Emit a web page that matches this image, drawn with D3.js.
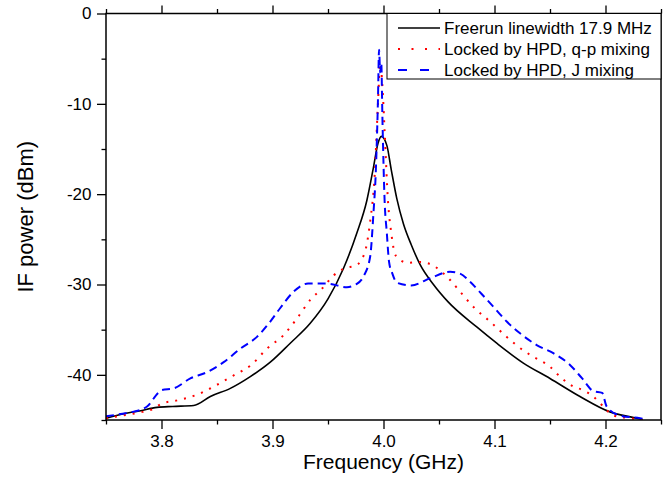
<!DOCTYPE html>
<html>
<head>
<meta charset="utf-8">
<script src="https://cdn.jsdelivr.net/npm/d3@7"></script>
<style>
  body { margin: 0; background: #fff; }
  text { font-family: "Liberation Sans", Arial, sans-serif; }
</style>
</head>
<body>
<script>
// Daten
const seriesNames = ["Freerun linewidth 17.9 MHz", "Locked by HPD, q-p mixing", "Locked by HPD, J mixing"];

const freeFreq = [3.750, 3.766, 3.780, 3.796, 3.810, 3.829, 3.844, 3.862, 3.880, 3.898, 3.916, 3.934, 3.950, 3.964,
  3.976, 3.985, 3.991, 3.995, 3.998, 4.003, 4.007, 4.012, 4.018, 4.025, 4.033, 4.045, 4.058, 4.084, 4.102, 4.126,
  4.150, 4.177, 4.204, 4.220, 4.233];
const freePower = [-44.8, -44.3, -44.0, -43.6, -43.5, -43.4, -42.4, -41.5, -40.2, -38.6, -36.5, -34.3, -31.6, -28.2,
  -24.3, -20.7, -17.0, -14.4, -13.6, -14.6, -17.3, -20.5, -23.3, -25.6, -27.8, -30.0, -31.9, -34.7, -36.5, -38.7,
  -40.4, -42.4, -44.1, -44.6, -44.9];

const qpFreq = [3.750, 3.765, 3.783, 3.792, 3.800, 3.815, 3.832, 3.850, 3.866, 3.881, 3.895, 3.910, 3.923, 3.934,
  3.945, 3.955, 3.965, 3.975, 3.983, 3.988, 3.992, 3.995, 3.997, 3.999, 4.001, 4.004, 4.007, 4.011, 4.022, 4.033,
  4.046, 4.060, 4.069, 4.082, 4.096, 4.111, 4.126, 4.135, 4.150, 4.159, 4.171, 4.180, 4.189, 4.198, 4.207, 4.222, 4.234];
const qpPower = [-44.8, -44.5, -44.1, -43.8, -43.2, -42.8, -42.2, -41.1, -40.0, -38.9, -37.1, -35.6, -33.6, -31.7,
  -30.4, -29.0, -28.2, -27.9, -26.5, -23.0, -18.0, -10.0, -5.5, -8.0, -13.0, -20.7, -24.3, -26.8, -27.6, -27.5,
  -28.0, -29.5, -30.8, -32.6, -34.1, -35.8, -37.3, -38.0, -39.1, -40.2, -41.3, -41.7, -42.4, -43.5, -44.5, -44.8, -45.0];

const jFreq = [3.750, 3.765, 3.774, 3.787, 3.797, 3.800, 3.811, 3.826, 3.841, 3.856, 3.871, 3.886, 3.898, 3.907,
  3.919, 3.932, 3.949, 3.967, 3.975, 3.982, 3.988, 3.991, 3.993, 3.995, 3.996, 3.997, 3.998, 3.999, 4.001, 4.003,
  4.005, 4.008, 4.012, 4.025, 4.042, 4.060, 4.069, 4.078, 4.088, 4.100, 4.111, 4.123, 4.138, 4.153, 4.168, 4.179,
  4.189, 4.197, 4.201, 4.213, 4.231, 4.236];
const jPower = [-44.6, -44.3, -44.1, -43.5, -42.0, -41.7, -41.5, -40.4, -39.7, -38.6, -37.1, -35.8, -34.1, -32.6,
  -30.8, -29.9, -29.9, -30.3, -30.0, -29.1, -26.9, -22.0, -17.7, -9.6, -4.0, -6.5, -5.5, -11.4, -20.7, -24.3,
  -27.5, -28.8, -29.8, -30.1, -29.3, -28.6, -28.8, -29.7, -31.0, -32.6, -34.1, -35.4, -36.7, -37.6, -38.9, -40.4,
  -41.8, -42.0, -43.5, -44.5, -44.8, -44.9];

const xMajor = [3.8, 3.9, 4.0, 4.1, 4.2];
const xMinor = [3.75, 3.85, 3.95, 4.05, 4.15, 4.25];
const yMajor = [-40, -30, -20, -10, 0];
const yMinor = [-45, -35, -25, -15, -5];

// SVG
const width = 667, height = 489;
const pLeft = 106, pRight = 661, pTop = 13.5, pBottom = 420;

const svg = d3.select("body").append("svg")
    .attr("width", width)
    .attr("height", height);

const x = d3.scaleLinear().domain([3.75, 4.25]).range([pLeft, pRight]);
const y = d3.scaleLinear().domain([-45, 0]).range([pBottom, pTop]);

// Achsen
svg.append("g")
    .attr("transform", `translate(0,${pBottom})`)
    .call(d3.axisBottom(x).tickValues(xMajor).tickFormat(d3.format(".1f")).tickSize(9).tickSizeOuter(0))
    .call(g => g.selectAll("text").attr("font-size", 17).attr("dy", "0.9em"));
svg.append("g")
    .attr("transform", `translate(0,${pBottom})`)
    .call(d3.axisBottom(x).tickValues(xMinor).tickFormat("").tickSize(4.5).tickSizeOuter(0));

svg.append("g")
    .attr("transform", `translate(0,${pTop})`)
    .call(d3.axisTop(x).tickValues(xMajor).tickFormat("").tickSize(8).tickSizeOuter(0));
svg.append("g")
    .attr("transform", `translate(0,${pTop})`)
    .call(d3.axisTop(x).tickValues(xMinor).tickFormat("").tickSize(4.5).tickSizeOuter(0));

svg.append("g")
    .attr("transform", `translate(${pLeft},0)`)
    .call(d3.axisLeft(y).tickValues(yMajor).tickFormat(d => String(d)).tickSize(9).tickSizeOuter(0))
    .call(g => g.selectAll("text").attr("font-size", 17).attr("dx", "-0.15em"));
svg.append("g")
    .attr("transform", `translate(${pLeft},0)`)
    .call(d3.axisLeft(y).tickValues(yMinor).tickFormat("").tickSize(4.5).tickSizeOuter(0));

svg.selectAll(".domain").remove();
svg.selectAll(".tick line").attr("stroke", "black").attr("stroke-width", 1.3);
svg.selectAll(".tick text").attr("fill", "black").attr("font-family", "Liberation Sans, Arial, sans-serif");

// Kurven
svg.append("clipPath").attr("id", "plot")
    .append("rect").attr("x", pLeft).attr("y", pTop).attr("width", pRight - pLeft).attr("height", pBottom - pTop);

const line = d3.line()
    .x(d => x(d[0]))
    .y(d => y(d[1]))
    .curve(d3.curveMonotoneX);

const freeData = d3.zip(freeFreq, freePower);
const qpData = d3.zip(qpFreq, qpPower);
const jData = d3.zip(jFreq, jPower);

const styles = [
  { color: "black", width: 1.6, dash: null, legendDash: null },
  { color: "#ff0000", width: 2, dash: "2,7", legendDash: "2,11.5" },
  { color: "#0000ff", width: 2, dash: "8,5", legendDash: "9,13" }
];

[freeData, qpData, jData].forEach((data, i) => {
  svg.append("path")
      .datum(data)
      .attr("clip-path", "url(#plot)")
      .attr("d", line)
      .attr("fill", "none")
      .attr("stroke", styles[i].color)
      .attr("stroke-width", styles[i].width)
      .attr("stroke-dasharray", styles[i].dash);
});

// Rahmen
svg.append("rect")
    .attr("x", pLeft)
    .attr("y", pTop)
    .attr("width", pRight - pLeft)
    .attr("height", pBottom - pTop)
    .attr("fill", "none")
    .attr("stroke", "black")
    .attr("stroke-width", 1.5);

// Legende
const legend = svg.append("g");
legend.append("rect")
    .attr("x", 387)
    .attr("y", pTop)
    .attr("width", pRight - 387)
    .attr("height", 65.5)
    .attr("fill", "white")
    .attr("stroke", "black")
    .attr("stroke-width", 1);

seriesNames.forEach((name, i) => {
  const ly = 28 + i * 21;
  legend.append("line")
      .attr("x1", 398).attr("x2", 440)
      .attr("y1", ly).attr("y2", ly)
      .attr("stroke", styles[i].color)
      .attr("stroke-width", styles[i].width)
      .attr("stroke-dasharray", styles[i].legendDash);
  legend.append("text")
      .attr("x", 444)
      .attr("y", ly)
      .attr("dy", "0.35em")
      .attr("font-size", 17)
      .text(name);
});

// Achsentitel
svg.append("text")
    .attr("x", (pLeft + pRight) / 2)
    .attr("y", 469)
    .attr("text-anchor", "middle")
    .attr("font-size", 21)
    .text("Frequency (GHz)");

svg.append("text")
    .attr("transform", `translate(33,${(pTop + pBottom) / 2}) rotate(-90)`)
    .attr("text-anchor", "middle")
    .attr("font-size", 22)
    .text("IF power (dBm)");
</script>
</body>
</html>
